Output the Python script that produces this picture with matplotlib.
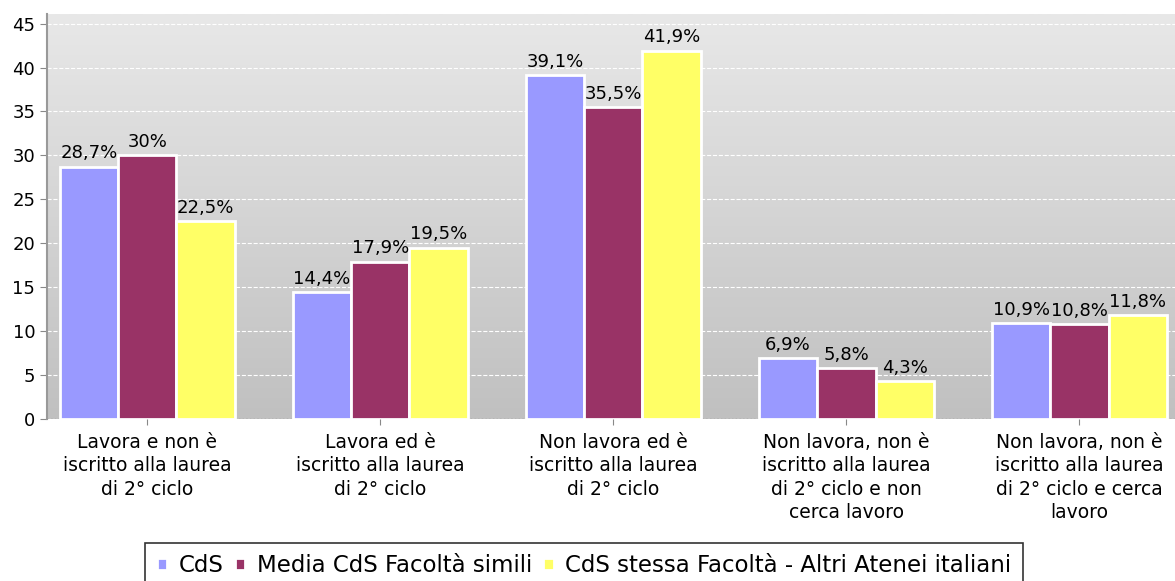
import numpy as np
import matplotlib.pyplot as plt

categories = [
    "Lavora e non è\niscritto alla laurea\ndi 2° ciclo",
    "Lavora ed è\niscritto alla laurea\ndi 2° ciclo",
    "Non lavora ed è\niscritto alla laurea\ndi 2° ciclo",
    "Non lavora, non è\niscritto alla laurea\ndi 2° ciclo e non\ncerca lavoro",
    "Non lavora, non è\niscritto alla laurea\ndi 2° ciclo e cerca\nlavoro",
]
series_names = ["CdS", "Media CdS Facoltà simili", "CdS stessa Facoltà - Altri Atenei italiani"]
cds = [28.7, 14.4, 39.1, 6.9, 10.9]
media = [30.0, 17.9, 35.5, 5.8, 10.8]
altri = [22.5, 19.5, 41.9, 4.3, 11.8]
labels_cds = ["28,7%", "14,4%", "39,1%", "6,9%", "10,9%"]
labels_media = ["30%", "17,9%", "35,5%", "5,8%", "10,8%"]
labels_altri = ["22,5%", "19,5%", "41,9%", "4,3%", "11,8%"]
colors = ["#9999FF", "#993366", "#FFFF66"]

plt.rcParams['font.family'] = ['DejaVu Sans']
fig = plt.figure(figsize=(11.75, 5.81), dpi=100)
ax = fig.add_axes([0.04, 0.279, 0.96, 0.697])

# gradient background
grad = np.linspace(0, 1, 256).reshape(-1, 1)
ax.imshow(grad, extent=[0, 1, 0, 1], transform=ax.transAxes, aspect='auto',
          cmap=plt.matplotlib.colors.LinearSegmentedColormap.from_list('bg', ['#c0c0c0', '#e8e8e8']),
          origin='lower', zorder=0)

x = np.arange(len(categories))
w = 0.25
for i, (vals, labs) in enumerate([(cds, labels_cds), (media, labels_media), (altri, labels_altri)]):
    pos = x + (i - 1) * w
    ax.bar(pos, vals, width=w, color=colors[i], edgecolor='white', linewidth=2,
           label=series_names[i], zorder=3)
    for p, v, t in zip(pos, vals, labs):
        ax.text(p, v + 0.5, t, ha='center', va='bottom', fontsize=13, zorder=4)

ax.set_xlim(-0.43, 4.41)
ax.set_ylim(0, 46.1)
ax.set_yticks(range(0, 50, 5))
ax.set_xticks(x)
ax.set_xticklabels(categories, fontsize=13.5, linespacing=1.3)
ax.tick_params(axis='y', labelsize=13, length=5, color='#888888')
ax.tick_params(axis='x', length=4, color='#888888', pad=6)
ax.yaxis.grid(True, color='white', linestyle='--', linewidth=0.8, zorder=1)
ax.axhline(0, color='#888888', linestyle=':', linewidth=1, zorder=2)
for s in ['top', 'right', 'bottom']:
    ax.spines[s].set_visible(False)
ax.spines['left'].set_color('#999999')
ax.spines['left'].set_linewidth(1.5)

leg = fig.legend(loc='upper center', bbox_to_anchor=(0.497, 0.066), ncol=3, fontsize=16.5,
                 frameon=True, fancybox=False, edgecolor='black', handlelength=0.45,
                 handleheight=0.45, handletextpad=0.5, columnspacing=0.5, borderpad=0.5,
                 borderaxespad=0)
leg.get_frame().set_linewidth(1.2)

fig.savefig('out.png', dpi=100)
